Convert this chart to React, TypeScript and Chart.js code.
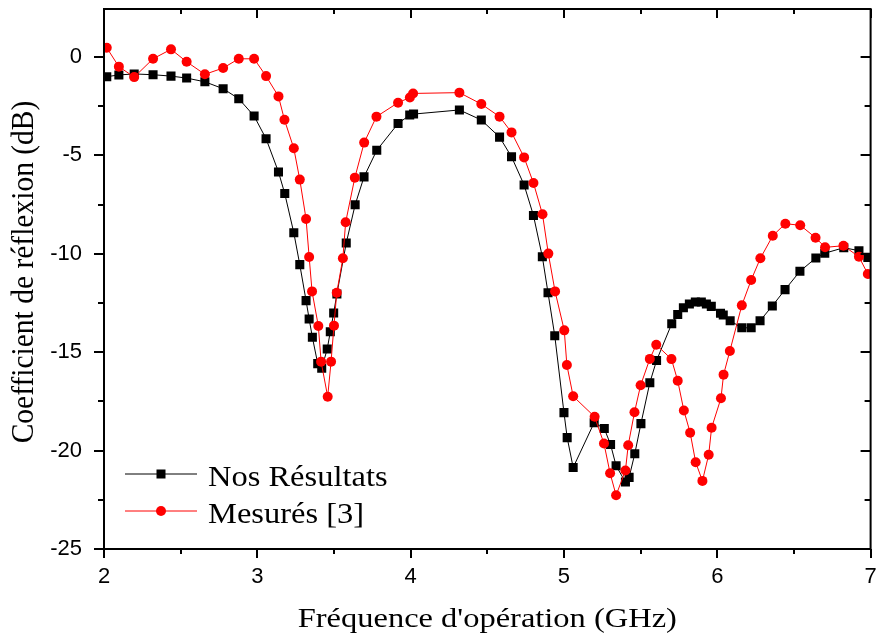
import React, { useEffect, useRef } from 'react';
import { Chart, registerables } from 'chart.js';

Chart.register(...registerables);

// ---- Data ----
const nosFreq = [
  2.018, 2.097, 2.197, 2.320, 2.437, 2.539, 2.658, 2.777, 2.879, 2.979,
  3.057, 3.138, 3.179, 3.238, 3.277, 3.318, 3.338, 3.359, 3.394, 3.420,
  3.456, 3.476, 3.498, 3.519, 3.580, 3.638, 3.696, 3.779, 3.918, 3.994,
  4.019, 4.318, 4.461, 4.580, 4.658, 4.740, 4.801, 4.859, 4.896, 4.940,
  5.000, 5.021, 5.060, 5.197, 5.263, 5.304, 5.340, 5.401, 5.425, 5.462,
  5.502, 5.560, 5.604, 5.703, 5.742, 5.779, 5.818, 5.857, 5.896, 5.929,
  5.961, 6.021, 6.039, 6.084, 6.160, 6.221, 6.279, 6.359, 6.442, 6.539,
  6.643, 6.701, 6.825, 6.924, 6.982,
];
const nosS11 = [
  -1.00, -0.91, -0.86, -0.90, -0.97, -1.07, -1.26, -1.61, -2.12, -3.00,
  -4.15, -5.84, -6.94, -8.93, -10.55, -12.38, -13.31, -14.24, -15.58, -15.82,
  -14.84, -13.96, -13.01, -12.04, -9.45, -7.51, -6.09, -4.74, -3.38, -2.95,
  -2.90, -2.69, -3.20, -4.07, -5.07, -6.50, -8.05, -10.15, -11.98, -14.16,
  -18.07, -19.34, -20.86, -18.58, -18.88, -19.69, -20.77, -21.60, -21.36, -20.16,
  -18.63, -16.55, -15.42, -13.55, -13.08, -12.74, -12.55, -12.45, -12.45, -12.55,
  -12.67, -13.02, -13.11, -13.40, -13.76, -13.76, -13.40, -12.65, -11.82, -10.89,
  -10.21, -9.97, -9.69, -9.84, -10.18,
];
const mesFreq = [
  2.018, 2.097, 2.197, 2.320, 2.437, 2.539, 2.658, 2.777, 2.879, 2.979,
  3.057, 3.138, 3.177, 3.238, 3.277, 3.318, 3.338, 3.357, 3.398, 3.416,
  3.459, 3.481, 3.500, 3.518, 3.558, 3.576, 3.636, 3.697, 3.777, 3.918,
  3.995, 4.016, 4.318, 4.461, 4.580, 4.658, 4.740, 4.801, 4.860, 4.898,
  4.942, 5.002, 5.019, 5.060, 5.200, 5.261, 5.301, 5.340, 5.401, 5.419,
  5.460, 5.500, 5.560, 5.602, 5.701, 5.742, 5.782, 5.823, 5.859, 5.903,
  5.944, 5.963, 6.024, 6.041, 6.082, 6.160, 6.221, 6.281, 6.362, 6.444,
  6.541, 6.641, 6.703, 6.823, 6.924, 6.982,
];
const mesS11 = [
  0.47, -0.49, -1.02, -0.09, 0.39, -0.24, -0.88, -0.56, -0.09, -0.09,
  -0.97, -2.00, -3.19, -4.64, -6.23, -8.23, -10.16, -11.91, -13.67, -15.48,
  -17.26, -15.48, -13.65, -11.98, -10.23, -8.40, -6.13, -4.35, -3.03, -2.32,
  -2.06, -1.85, -1.81, -2.39, -3.03, -3.83, -5.10, -6.40, -7.99, -9.99,
  -11.91, -13.89, -15.65, -17.24, -18.28, -19.64, -21.15, -22.27, -21.01, -19.73,
  -18.05, -16.68, -15.34, -14.62, -15.35, -16.45, -17.96, -19.09, -20.59, -21.54,
  -20.21, -18.84, -17.34, -16.14, -14.94, -12.62, -11.33, -10.23, -9.08, -8.47,
  -8.55, -9.18, -9.67, -9.59, -10.15, -11.03,
];

const seriesLabels = ['Nos Résultats', 'Mesurés [3]'];
const xTitle = "Fréquence d'opération (GHz)";
const yTitle = 'Coefficient de réflexion (dB)';
const xTicks = [2, 3, 4, 5, 6, 7];
const xMinor = [2.5, 3.5, 4.5, 5.5, 6.5];
const yTicks = [-25, -20, -15, -10, -5, 0];
const yMinor = [-22.5, -17.5, -12.5, -7.5, -2.5];

const framePlugin = {
  id: 'originFrame',
  afterDraw(chart: any) {
    const { ctx, chartArea: a, scales } = chart;
    const xs = scales.x;
    const ys = scales.y;
    ctx.save();
    ctx.strokeStyle = '#000';
    ctx.lineWidth = 2;
    ctx.strokeRect(a.left, a.top, a.right - a.left, a.bottom - a.top);

    ctx.lineWidth = 2;
    ctx.beginPath();
    const xt = (vals: number[], len: number) => {
      for (const v of vals) {
        const px = Math.round(xs.getPixelForValue(v));
        ctx.moveTo(px, a.bottom);
        ctx.lineTo(px, a.bottom + len);
        ctx.moveTo(px, a.top);
        ctx.lineTo(px, a.top + len);
      }
    };
    const yt = (vals: number[], len: number) => {
      for (const v of vals) {
        const py = Math.round(ys.getPixelForValue(v));
        ctx.moveTo(a.left, py);
        ctx.lineTo(a.left - len, py);
        ctx.moveTo(a.right, py);
        ctx.lineTo(a.right - len, py);
      }
    };
    xt(xTicks, 9);
    xt(xMinor, 5);
    yt(yTicks, 10);
    yt(yMinor, 6);
    ctx.stroke();

    ctx.fillStyle = '#000';
    // x title
    ctx.save();
    ctx.font = '28px "Liberation Serif"';
    ctx.textAlign = 'center';
    ctx.textBaseline = 'alphabetic';
    ctx.translate((a.left + a.right) / 2, 627);
    ctx.scale(1.16, 1);
    ctx.fillText(xTitle, 0, 0);
    ctx.restore();
    // y title
    ctx.save();
    ctx.font = '29.5px "Liberation Serif"';
    ctx.textAlign = 'center';
    ctx.textBaseline = 'alphabetic';
    ctx.translate(33, 272);
    ctx.rotate(-Math.PI / 2);
    ctx.scale(1, 1.1);
    ctx.fillText(yTitle, 0, 0);
    ctx.restore();

    // legend
    const items = [
      { color: '#000000', style: 'rect', y: 474, base: 486 },
      { color: '#ff0000', style: 'circle', y: 511, base: 523 },
    ];
    items.forEach((it, i) => {
      ctx.strokeStyle = it.color;
      ctx.lineWidth = 1;
      ctx.beginPath();
      ctx.moveTo(125, it.y);
      ctx.lineTo(197, it.y);
      ctx.stroke();
      ctx.fillStyle = it.color;
      if (it.style === 'rect') {
        ctx.fillRect(161 - 4.5, it.y - 4.5, 9, 9);
      } else {
        ctx.beginPath();
        ctx.arc(161, it.y, 5, 0, Math.PI * 2);
        ctx.fill();
      }
      ctx.save();
      ctx.fillStyle = '#000';
      ctx.font = '29px "Liberation Serif"';
      ctx.textAlign = 'left';
      ctx.textBaseline = 'alphabetic';
      ctx.translate(208, it.base);
      ctx.scale(1.12, 1);
      ctx.fillText(seriesLabels[i], 0, 0);
      ctx.restore();
    });
    ctx.restore();
  },
};

export default function App() {
  const ref = useRef<HTMLCanvasElement>(null);
  useEffect(() => {
    if (!ref.current) return;
    const chart = new Chart(ref.current, {
      type: 'line',
      data: {
        datasets: [
          {
            label: seriesLabels[0],
            data: nosFreq.map((x, i) => ({ x, y: nosS11[i] })),
            borderColor: '#000000',
            backgroundColor: '#000000',
            borderWidth: 1,
            pointStyle: 'rect',
            pointRadius: 6.4,
            pointBorderWidth: 0,
            tension: 0,
            order: 2,
          },
          {
            label: seriesLabels[1],
            data: mesFreq.map((x, i) => ({ x, y: mesS11[i] })),
            borderColor: '#ff0000',
            backgroundColor: '#ff0000',
            borderWidth: 1,
            pointStyle: 'circle',
            pointRadius: 5,
            pointBorderWidth: 0,
            tension: 0,
            order: 1,
          },
        ],
      },
      options: {
        responsive: false,
        animation: false,
        devicePixelRatio: 1,
        layout: { padding: { top: 9, right: 3, left: 0, bottom: 0 } },
        plugins: { legend: { display: false }, tooltip: { enabled: false } },
        scales: {
          x: {
            type: 'linear',
            position: 'bottom',
            min: 2,
            max: 7,
            grid: { display: false, drawTicks: false },
            border: { display: false },
            afterBuildTicks: (s: any) => {
              s.ticks = xTicks.map((v) => ({ value: v }));
            },
            ticks: {
              font: { family: 'Liberation Sans', size: 22 },
              color: '#000',
              padding: 15,
              maxRotation: 0,
              autoSkip: false,
            },
            afterFit: (s: any) => {
              s.height = 88;
              s.paddingLeft = 0;
              s.paddingRight = 0;
            },
          },
          y: {
            type: 'linear',
            position: 'left',
            min: -25,
            max: 2.44,
            grid: { display: false, drawTicks: false },
            border: { display: false },
            afterBuildTicks: (s: any) => {
              s.ticks = yTicks.map((v) => ({ value: v }));
            },
            ticks: {
              font: { family: 'Liberation Sans', size: 22 },
              color: '#000',
              padding: 22,
              autoSkip: false,
            },
            afterFit: (s: any) => {
              s.width = 104;
              s.paddingTop = 0;
              s.paddingBottom = 0;
            },
          },
        },
      },
      plugins: [framePlugin],
    });
    return () => chart.destroy();
  }, []);
  return (
    <canvas
      ref={ref}
      width={877}
      height={637}
      style={{ position: 'absolute', left: 0, top: 0, display: 'block' }}
    />
  );
}
